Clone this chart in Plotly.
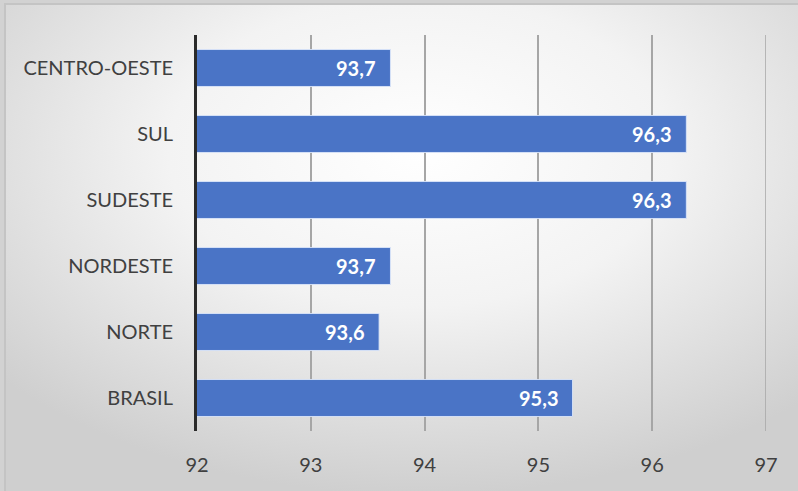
import base64
import plotly.graph_objects as go

categories = ["BRASIL", "NORTE", "NORDESTE", "SUDESTE", "SUL", "CENTRO-OESTE"]
values = [95.3, 93.6, 93.7, 96.3, 96.3, 93.7]
x_ticks = [92, 93, 94, 95, 96, 97]

W, H = 798, 491
L, R, T, B = 197, 32, 35, 60
pw, ph = W - L - R, H - T - B

labels = [f"{v:.1f}".replace(".", ",") for v in values]

svg = f'''<svg xmlns="http://www.w3.org/2000/svg" width="{W}" height="{H}" viewBox="0 0 {W} {H}" preserveAspectRatio="none">
<defs><radialGradient id="g" cx="52%" cy="30%" r="70%" gradientUnits="objectBoundingBox">
<stop offset="0" stop-color="#ffffff"/><stop offset="0.45" stop-color="#f3f3f3"/><stop offset="1" stop-color="#cfcfcf"/></radialGradient></defs>
<rect x="0" y="0" width="{W}" height="{H}" fill="#d2d2d2"/>
<rect x="5" y="4" width="{W}" height="{H}" fill="url(#g)" stroke="#c4c4c4" stroke-width="2"/>
</svg>'''
src = "data:image/svg+xml;base64," + base64.b64encode(svg.encode()).decode()

font = "Lato, 'Open Sans', sans-serif"
grid_color = "#a6a6a6"

fig = go.Figure()
fig.add_trace(go.Bar(
    y=categories, x=values, orientation="h",
    base=0,
    marker=dict(color="#4a74c6", line=dict(color="rgba(220,230,250,0.9)", width=1)),
    hoverinfo="skip",
))

for c, v, t in zip(categories, values, labels):
    fig.add_annotation(x=v, y=c, text=f"<b>{t}</b>", showarrow=False,
                       xanchor="right", xshift=-13,
                       font=dict(family=font, size=20, color="white"))

# last gridline at the right edge of the axis range
fig.add_shape(type="line", xref="x", yref="paper", x0=x_ticks[-1], x1=x_ticks[-1],
              y0=0, y1=1, line=dict(color=grid_color, width=1.5), layer="below")

fig.update_layout(
    width=W, height=H,
    margin=dict(l=L, r=R, t=T, b=B),
    paper_bgcolor="#d8d8d8",
    plot_bgcolor="rgba(0,0,0,0)",
    showlegend=False,
    bargap=0.44,
    font=dict(family=font, size=20, color="#404040"),
    images=[dict(source=src, xref="paper", yref="paper",
                 x=-L / pw, y=1 + T / ph, sizex=W / pw, sizey=H / ph,
                 xanchor="left", yanchor="top", sizing="stretch", layer="below")],
)
fig.update_xaxes(range=[x_ticks[0], x_ticks[-1]], tickvals=x_ticks, ticktext=[str(v) for v in x_ticks],
                 showgrid=True, gridcolor=grid_color, gridwidth=1.5,
                 zeroline=False, showline=False, ticks="", ticklabelstandoff=20,
                 tickfont=dict(family=font, size=20, color="#404040"), fixedrange=True)
fig.update_yaxes(categoryorder="array", categoryarray=categories,
                 showgrid=False, showline=True, linecolor="#2a2a2a", linewidth=3,
                 ticks="", ticklabelstandoff=17,
                 tickfont=dict(family=font, size=20, color="#404040"), fixedrange=True)

fig.write_html("out.html", config={"displayModeBar": False})
